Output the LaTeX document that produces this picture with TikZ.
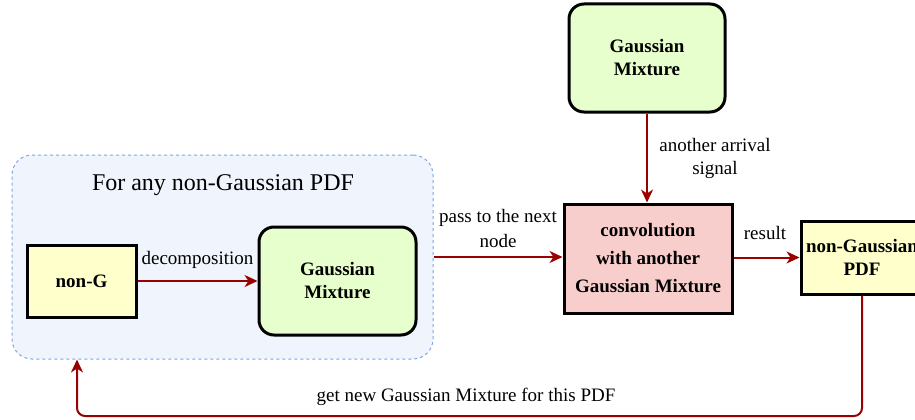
\documentclass[tikz,border=0pt]{standalone}
\usepackage{fontspec}
\setmainfont{Liberation Serif}
\usetikzlibrary{arrows.meta}
\definecolor{arrred}{HTML}{990000}
\definecolor{grpfill}{HTML}{F0F4FC}
\definecolor{grpdraw}{HTML}{7EA6E0}
\definecolor{yel}{HTML}{FFFFCC}
\definecolor{grn}{HTML}{E6FFCC}
\definecolor{pink}{HTML}{F8CECC}
\tikzset{
  box/.style={draw=black, line width=3pt, align=center, inner sep=0pt,
    font=\fontsize{19}{23}\selectfont\bfseries},
  lbl/.style={align=center, inner sep=0pt, font=\fontsize{19}{23}\selectfont},
  arr/.style={draw=arrred, line width=2pt, -{Stealth[length=13pt,width=12pt,inset=4pt]}}
}
\begin{document}
\begin{tikzpicture}[x=1pt,y=-1pt]
\useasboundingbox (0,0) rectangle (915,420);
% group
\node[draw=grpdraw, fill=grpfill, dash pattern=on 3pt off 3pt, line width=1pt,
  rounded corners=20pt, minimum width=421pt, minimum height=204pt, inner sep=0pt]
  (grp) at (222.5,257) {};
\node[lbl, font=\fontsize{24}{28}\selectfont] (title) at (223,185) {For any non-Gaussian PDF};
% boxes
\node[box, fill=yel, minimum width=109pt, minimum height=72pt] (nong) at (81.5,281) {non-G};
\node[box, fill=grn, rounded corners=15pt, minimum width=157pt, minimum height=108pt] (gm1) at (337.5,281) {Gaussian\\Mixture};
\node[box, fill=grn, rounded corners=15pt, minimum width=156pt, minimum height=108pt] (gm2) at (647,58) {Gaussian\\Mixture};
\node[box, fill=pink, minimum width=168pt, minimum height=109pt,
  font=\fontsize{19}{28}\selectfont\bfseries] (conv) at (648,258.5) {convolution\\with another\\Gaussian Mixture};
\node[box, fill=yel, minimum width=122pt, minimum height=73pt] (ngp) at (862,257.5) {non-Gaussian\\PDF};
% connectors
\draw[arr] (nong.east) -- (gm1.west |- nong.east);
\node[lbl] (ldec) at (197.5,260) {decomposition};
\draw[arr] (grp.east) -- (conv.west |- grp.east);
\node[lbl, font=\fontsize{19}{25}\selectfont] (lpass) at (498,228) {pass to the next\\node};
\draw[arr] (gm2.south) -- (conv.north -| gm2.south);
\node[lbl] (lsig) at (715,158) {another arrival\\signal};
\draw[arr] (conv.east |- ngp.west) -- (ngp.west);
\node[lbl] (lres) at (765,233) {result};
\coordinate (bot) at (77,416);
\draw[arr, rounded corners=8pt] (ngp.south) -- (ngp.south |- bot) -- (bot) -- (bot |- grp.south);
\node[lbl] (lget) at (466,397) {get new Gaussian Mixture for this PDF};
\end{tikzpicture}
\end{document}
